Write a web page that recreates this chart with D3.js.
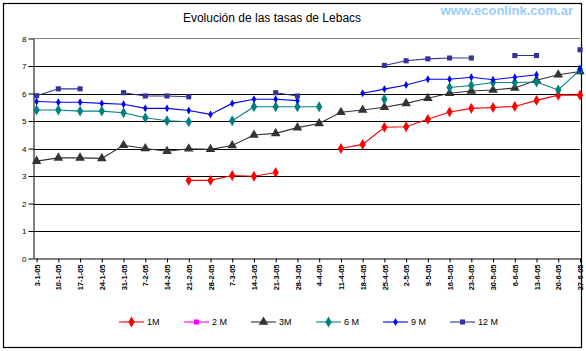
<!DOCTYPE html>
<html>
<head>
<meta charset="utf-8">
<script src="https://cdn.jsdelivr.net/npm/d3@7"></script>
<style>
  body { margin: 0; background: #fff; }
  svg { display: block; font-family: Arial, "Liberation Sans", sans-serif; }
</style>
</head>
<body>
<svg width="586" height="351"></svg>
<script>
// Weekly dates (3-1-05 .. 27-6-05)
let dates = ['2005-01-03','2005-01-10','2005-01-17','2005-01-24','2005-01-31','2005-02-07','2005-02-14',
  '2005-02-21','2005-02-28','2005-03-07','2005-03-14','2005-03-21','2005-03-28','2005-04-04','2005-04-11',
  '2005-04-18','2005-04-25','2005-05-02','2005-05-09','2005-05-16','2005-05-23','2005-05-30','2005-06-06',
  '2005-06-13','2005-06-20','2005-06-27']

let seriesNames = ['1M', '2 M', '3M', '6 M', '9 M', '12 M']

let r1M = [null, null, null, null, null, null, null, 2.84, 2.84, 3.02, 2.99, 3.13, null, null,
  4.00, 4.15, 4.77, 4.79, 5.06, 5.33, 5.46, 5.49, 5.53, 5.75, 5.94, 5.94]
let r2M = [null, null, null, null, null, null, null, null, null, null, null, null, null, null,
  null, null, null, null, null, null, null, null, null, null, null, null]
let r3M = [3.54, 3.66, 3.66, 3.64, 4.12, 4.00, 3.90, 3.99, 3.97, 4.11, 4.49, 4.55, 4.76, 4.91,
  5.32, 5.40, 5.50, 5.64, 5.83, 6.01, 6.09, 6.13, 6.20, 6.48, 6.68, 6.80]
let r6M = [5.40, 5.40, 5.36, 5.36, 5.30, 5.12, 5.01, 4.97, null, 5.01, 5.52, 5.52, 5.52, 5.52,
  null, null, 5.79, null, null, 6.22, 6.29, 6.40, 6.40, 6.42, 6.13, 6.86]
let r9M = [5.71, 5.68, 5.68, 5.64, 5.61, 5.46, 5.46, 5.38, 5.24, 5.64, 5.79, 5.79, 5.74, null,
  null, 6.01, 6.16, 6.31, 6.52, 6.52, 6.59, 6.50, 6.59, 6.68, null, 6.89]
let r12M = [5.92, 6.17, 6.17, null, 6.03, 5.91, 5.91, 5.88, null, null, null, 6.03, 5.91, null,
  null, null, 7.02, 7.19, 7.26, 7.29, 7.29, null, 7.38, 7.38, null, 7.59]

let yTicks = [0, 1, 2, 3, 4, 5, 6, 7, 8]

// Styles per series
let colors = ['#ff0000', '#ff00ff', '#333333', '#008080', '#0000ff', '#333399']
let symbols = [d3.symbolDiamond, d3.symbolSquare, d3.symbolTriangle, d3.symbolDiamond, d3.symbolDiamond, d3.symbolSquare]
let symSizes = [34, 26, 40, 34, 18, 26]

let parse = d3.timeParse('%Y-%m-%d')
let days = dates.map(parse)
let values = [r1M, r2M, r3M, r6M, r9M, r12M]

let plot = { left: 33.5, right: 580, top: 38.5, bottom: 258.5 }

let svg = d3.select('svg')

// Outer frame
svg.append('rect')
  .attr('x', 3.5).attr('y', 3.5)
  .attr('width', 578).attr('height', 344)
  .attr('fill', 'none').attr('stroke', '#000').attr('stroke-width', 1.2)

// Scales
let scale = {
  x: d3.scaleTime().domain([d3.timeDay.offset(days[0], -1), days[days.length - 1]]).range([plot.left, plot.right]),
  y: d3.scaleLinear().domain([0, 8]).range([plot.bottom, plot.top])
}

// Gridlines
svg.append('g')
  .selectAll('line')
  .data(yTicks.filter(d => d > 0 && d < 8))
  .enter()
  .append('line')
  .attr('x1', plot.left).attr('x2', plot.right)
  .attr('y1', d => Math.round(scale.y(d)) + 0.5)
  .attr('y2', d => Math.round(scale.y(d)) + 0.5)
  .attr('stroke', '#000').attr('stroke-width', 1)

// Plot area top border
svg.append('line')
  .attr('x1', plot.left).attr('x2', plot.right)
  .attr('y1', plot.top).attr('y2', plot.top)
  .attr('stroke', '#808080').attr('stroke-width', 1)

// X axis
let fmt = d3.timeFormat('%-d-%-m-%y')
let xAxis = svg.append('g')
  .attr('transform', `translate(0,${plot.bottom})`)
  .call(d3.axisBottom(scale.x).tickValues(days).tickFormat(fmt).tickSize(4).tickSizeOuter(0))
xAxis.select('.domain').attr('stroke', '#000')
xAxis.selectAll('.tick line').attr('stroke', '#000')
xAxis.selectAll('.tick text')
  .attr('transform', 'rotate(-90)')
  .attr('x', -6).attr('y', 0).attr('dy', '0.35em')
  .attr('text-anchor', 'end')
  .attr('font-size', 7.5).attr('font-weight', 'bold')
  .attr('font-family', 'Arial, "Liberation Sans", sans-serif')
  .attr('fill', '#000')

// Y axis
let yAxis = svg.append('g')
  .attr('transform', `translate(${plot.left},0)`)
  .call(d3.axisLeft(scale.y).tickValues(yTicks).tickFormat(d3.format('d')).tickSize(5).tickSizeOuter(0))
yAxis.select('.domain').attr('stroke', '#000')
yAxis.selectAll('.tick line').attr('stroke', '#000')
yAxis.selectAll('.tick text')
  .attr('x', -7)
  .attr('font-size', 8)
  .attr('font-family', 'Arial, "Liberation Sans", sans-serif')
  .attr('fill', '#000')

// Lines + markers
let line = d3.line()
  .defined(d => d.v != null)
  .x(d => scale.x(d.t))
  .y(d => scale.y(d.v))

values.forEach((vals, k) => {
  let data = vals.map((v, i) => ({ t: days[i], v: v }))
  svg.append('path')
    .datum(data)
    .attr('d', line)
    .attr('fill', 'none')
    .attr('stroke', colors[k])
    .attr('stroke-width', 1.1)

  svg.append('g')
    .selectAll('path')
    .data(data.filter(d => d.v != null))
    .enter()
    .append('path')
    .attr('d', d3.symbol().type(symbols[k]).size(symSizes[k]))
    .attr('transform', d => `translate(${scale.x(d.t)},${scale.y(d.v)})`)
    .attr('fill', colors[k])
})

// Title
svg.append('text')
  .attr('x', 272).attr('y', 22)
  .attr('text-anchor', 'middle')
  .attr('font-size', 12)
  .attr('fill', '#000')
  .text('Evolución de las tasas de Lebacs')

svg.append('text')
  .attr('x', 573).attr('y', 15)
  .attr('text-anchor', 'end')
  .attr('font-size', 13).attr('font-weight', 'bold')
  .attr('fill', '#99ccff')
  .text('www.econlink.com.ar')

// Legend
let legendX = [119, 184, 251, 316, 383, 450]
let legend = svg.append('g').attr('transform', 'translate(0,322)')
seriesNames.forEach((name, k) => {
  let g = legend.append('g').attr('transform', `translate(${legendX[k]},0)`)
  g.append('line').attr('x1', 0).attr('x2', 25).attr('y1', 0).attr('y2', 0)
    .attr('stroke', colors[k]).attr('stroke-width', 1.1)
  g.append('path')
    .attr('d', d3.symbol().type(symbols[k]).size(symSizes[k]))
    .attr('transform', 'translate(12.5,0)')
    .attr('fill', colors[k])
  g.append('text')
    .attr('x', 28).attr('y', 0).attr('dy', '0.35em')
    .attr('font-size', 9)
    .attr('fill', '#000')
    .text(name)
})
</script>
</body>
</html>
